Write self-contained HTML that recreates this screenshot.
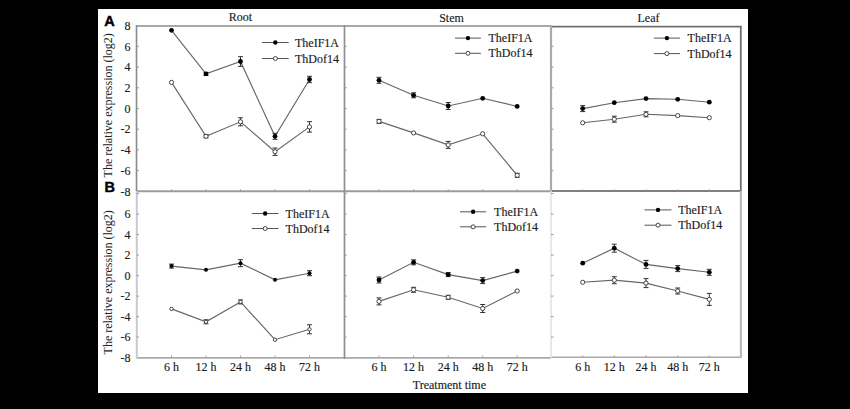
<!DOCTYPE html><html><head><meta charset="utf-8"><style>html,body{margin:0;padding:0;background:#000;overflow:hidden}svg{display:block}</style></head><body>
<svg width="850" height="409" viewBox="0 0 850 409">
<rect x="0" y="0" width="850" height="409" fill="#000"/>
<rect x="98" y="9" width="650" height="384" fill="#fff"/>
<line x1="136.5" y1="26.0" x2="551" y2="26.0" stroke="#a8a8a8" stroke-width="2"/>
<line x1="551" y1="26.6" x2="741" y2="26.6" stroke="#707070" stroke-width="1.6"/>
<line x1="136.5" y1="191.3" x2="551" y2="191.3" stroke="#9c9c9c" stroke-width="2"/>
<line x1="551" y1="191.0" x2="741" y2="191.0" stroke="#555" stroke-width="1.6"/>
<line x1="136.5" y1="357.9" x2="551" y2="357.9" stroke="#aaa" stroke-width="1.8"/>
<line x1="551" y1="357.2" x2="741.5" y2="357.2" stroke="#aaa" stroke-width="1.6"/>
<line x1="136.5" y1="25.2" x2="136.5" y2="191" stroke="#8a8a8a" stroke-width="1.6"/>
<line x1="136.8" y1="191" x2="136.8" y2="358.8" stroke="#cacaca" stroke-width="2.0"/>
<line x1="344.5" y1="25.2" x2="344.5" y2="358.8" stroke="#8f8f8f" stroke-width="1.7"/>
<line x1="551" y1="25.2" x2="551" y2="191" stroke="#aaa" stroke-width="2.2"/>
<line x1="551" y1="191" x2="551" y2="358" stroke="#e0e0e0" stroke-width="1.5"/>
<line x1="740.8" y1="25.8" x2="740.8" y2="191" stroke="#6f6f6f" stroke-width="1.8"/>
<line x1="740.9" y1="191" x2="740.9" y2="358" stroke="#bbb" stroke-width="2.2"/>
<line x1="136.5" y1="170.7" x2="139.0" y2="170.7" stroke="#999" stroke-width="1"/>
<line x1="136.5" y1="149.9" x2="139.0" y2="149.9" stroke="#999" stroke-width="1"/>
<line x1="136.5" y1="129.2" x2="139.0" y2="129.2" stroke="#999" stroke-width="1"/>
<line x1="136.5" y1="108.5" x2="139.0" y2="108.5" stroke="#999" stroke-width="1"/>
<line x1="136.5" y1="87.8" x2="139.0" y2="87.8" stroke="#999" stroke-width="1"/>
<line x1="136.5" y1="67.1" x2="139.0" y2="67.1" stroke="#999" stroke-width="1"/>
<line x1="136.5" y1="46.3" x2="139.0" y2="46.3" stroke="#999" stroke-width="1"/>
<line x1="171.5" y1="191.3" x2="171.5" y2="189.3" stroke="#999" stroke-width="1"/>
<line x1="206.0" y1="191.3" x2="206.0" y2="189.3" stroke="#999" stroke-width="1"/>
<line x1="240.5" y1="191.3" x2="240.5" y2="189.3" stroke="#999" stroke-width="1"/>
<line x1="275.0" y1="191.3" x2="275.0" y2="189.3" stroke="#999" stroke-width="1"/>
<line x1="309.5" y1="191.3" x2="309.5" y2="189.3" stroke="#999" stroke-width="1"/>
<line x1="344.3" y1="170.7" x2="346.8" y2="170.7" stroke="#999" stroke-width="1"/>
<line x1="344.3" y1="149.9" x2="346.8" y2="149.9" stroke="#999" stroke-width="1"/>
<line x1="344.3" y1="129.2" x2="346.8" y2="129.2" stroke="#999" stroke-width="1"/>
<line x1="344.3" y1="108.5" x2="346.8" y2="108.5" stroke="#999" stroke-width="1"/>
<line x1="344.3" y1="87.8" x2="346.8" y2="87.8" stroke="#999" stroke-width="1"/>
<line x1="344.3" y1="67.1" x2="346.8" y2="67.1" stroke="#999" stroke-width="1"/>
<line x1="344.3" y1="46.3" x2="346.8" y2="46.3" stroke="#999" stroke-width="1"/>
<line x1="379.0" y1="191.3" x2="379.0" y2="189.3" stroke="#999" stroke-width="1"/>
<line x1="413.6" y1="191.3" x2="413.6" y2="189.3" stroke="#999" stroke-width="1"/>
<line x1="448.2" y1="191.3" x2="448.2" y2="189.3" stroke="#999" stroke-width="1"/>
<line x1="482.7" y1="191.3" x2="482.7" y2="189.3" stroke="#999" stroke-width="1"/>
<line x1="517.2" y1="191.3" x2="517.2" y2="189.3" stroke="#999" stroke-width="1"/>
<line x1="551.0" y1="170.7" x2="553.5" y2="170.7" stroke="#999" stroke-width="1"/>
<line x1="551.0" y1="149.9" x2="553.5" y2="149.9" stroke="#999" stroke-width="1"/>
<line x1="551.0" y1="129.2" x2="553.5" y2="129.2" stroke="#999" stroke-width="1"/>
<line x1="551.0" y1="108.5" x2="553.5" y2="108.5" stroke="#999" stroke-width="1"/>
<line x1="551.0" y1="87.8" x2="553.5" y2="87.8" stroke="#999" stroke-width="1"/>
<line x1="551.0" y1="67.1" x2="553.5" y2="67.1" stroke="#999" stroke-width="1"/>
<line x1="551.0" y1="46.3" x2="553.5" y2="46.3" stroke="#999" stroke-width="1"/>
<line x1="582.7" y1="191.3" x2="582.7" y2="189.3" stroke="#999" stroke-width="1"/>
<line x1="614.3" y1="191.3" x2="614.3" y2="189.3" stroke="#999" stroke-width="1"/>
<line x1="646.0" y1="191.3" x2="646.0" y2="189.3" stroke="#999" stroke-width="1"/>
<line x1="677.7" y1="191.3" x2="677.7" y2="189.3" stroke="#999" stroke-width="1"/>
<line x1="709.3" y1="191.3" x2="709.3" y2="189.3" stroke="#999" stroke-width="1"/>
<line x1="136.5" y1="337.1" x2="139.0" y2="337.1" stroke="#999" stroke-width="1"/>
<line x1="136.5" y1="316.6" x2="139.0" y2="316.6" stroke="#999" stroke-width="1"/>
<line x1="136.5" y1="296.1" x2="139.0" y2="296.1" stroke="#999" stroke-width="1"/>
<line x1="136.5" y1="275.6" x2="139.0" y2="275.6" stroke="#999" stroke-width="1"/>
<line x1="136.5" y1="255.1" x2="139.0" y2="255.1" stroke="#999" stroke-width="1"/>
<line x1="136.5" y1="234.6" x2="139.0" y2="234.6" stroke="#999" stroke-width="1"/>
<line x1="136.5" y1="214.1" x2="139.0" y2="214.1" stroke="#999" stroke-width="1"/>
<line x1="136.5" y1="193.6" x2="139.0" y2="193.6" stroke="#999" stroke-width="1"/>
<line x1="171.5" y1="357.6" x2="171.5" y2="355.6" stroke="#999" stroke-width="1"/>
<line x1="206.0" y1="357.6" x2="206.0" y2="355.6" stroke="#999" stroke-width="1"/>
<line x1="240.5" y1="357.6" x2="240.5" y2="355.6" stroke="#999" stroke-width="1"/>
<line x1="275.0" y1="357.6" x2="275.0" y2="355.6" stroke="#999" stroke-width="1"/>
<line x1="309.5" y1="357.6" x2="309.5" y2="355.6" stroke="#999" stroke-width="1"/>
<line x1="344.3" y1="337.1" x2="346.8" y2="337.1" stroke="#999" stroke-width="1"/>
<line x1="344.3" y1="316.6" x2="346.8" y2="316.6" stroke="#999" stroke-width="1"/>
<line x1="344.3" y1="296.1" x2="346.8" y2="296.1" stroke="#999" stroke-width="1"/>
<line x1="344.3" y1="275.6" x2="346.8" y2="275.6" stroke="#999" stroke-width="1"/>
<line x1="344.3" y1="255.1" x2="346.8" y2="255.1" stroke="#999" stroke-width="1"/>
<line x1="344.3" y1="234.6" x2="346.8" y2="234.6" stroke="#999" stroke-width="1"/>
<line x1="344.3" y1="214.1" x2="346.8" y2="214.1" stroke="#999" stroke-width="1"/>
<line x1="344.3" y1="193.6" x2="346.8" y2="193.6" stroke="#999" stroke-width="1"/>
<line x1="379.0" y1="357.6" x2="379.0" y2="355.6" stroke="#999" stroke-width="1"/>
<line x1="413.6" y1="357.6" x2="413.6" y2="355.6" stroke="#999" stroke-width="1"/>
<line x1="448.2" y1="357.6" x2="448.2" y2="355.6" stroke="#999" stroke-width="1"/>
<line x1="482.7" y1="357.6" x2="482.7" y2="355.6" stroke="#999" stroke-width="1"/>
<line x1="517.2" y1="357.6" x2="517.2" y2="355.6" stroke="#999" stroke-width="1"/>
<line x1="551.0" y1="337.1" x2="553.5" y2="337.1" stroke="#999" stroke-width="1"/>
<line x1="551.0" y1="316.6" x2="553.5" y2="316.6" stroke="#999" stroke-width="1"/>
<line x1="551.0" y1="296.1" x2="553.5" y2="296.1" stroke="#999" stroke-width="1"/>
<line x1="551.0" y1="275.6" x2="553.5" y2="275.6" stroke="#999" stroke-width="1"/>
<line x1="551.0" y1="255.1" x2="553.5" y2="255.1" stroke="#999" stroke-width="1"/>
<line x1="551.0" y1="234.6" x2="553.5" y2="234.6" stroke="#999" stroke-width="1"/>
<line x1="551.0" y1="214.1" x2="553.5" y2="214.1" stroke="#999" stroke-width="1"/>
<line x1="551.0" y1="193.6" x2="553.5" y2="193.6" stroke="#999" stroke-width="1"/>
<line x1="582.7" y1="357.6" x2="582.7" y2="355.6" stroke="#999" stroke-width="1"/>
<line x1="614.3" y1="357.6" x2="614.3" y2="355.6" stroke="#999" stroke-width="1"/>
<line x1="646.0" y1="357.6" x2="646.0" y2="355.6" stroke="#999" stroke-width="1"/>
<line x1="677.7" y1="357.6" x2="677.7" y2="355.6" stroke="#999" stroke-width="1"/>
<line x1="709.3" y1="357.6" x2="709.3" y2="355.6" stroke="#999" stroke-width="1"/>
<text x="130.5" y="195.6" text-anchor="end" font-family="'Liberation Serif', serif" font-size="12" fill="#1a1a1a" stroke="#1a1a1a" stroke-width="0.15">-8</text>
<text x="130.5" y="174.9" text-anchor="end" font-family="'Liberation Serif', serif" font-size="12" fill="#1a1a1a" stroke="#1a1a1a" stroke-width="0.15">-6</text>
<text x="130.5" y="154.1" text-anchor="end" font-family="'Liberation Serif', serif" font-size="12" fill="#1a1a1a" stroke="#1a1a1a" stroke-width="0.15">-4</text>
<text x="130.5" y="133.4" text-anchor="end" font-family="'Liberation Serif', serif" font-size="12" fill="#1a1a1a" stroke="#1a1a1a" stroke-width="0.15">-2</text>
<text x="130.5" y="112.7" text-anchor="end" font-family="'Liberation Serif', serif" font-size="12" fill="#1a1a1a" stroke="#1a1a1a" stroke-width="0.15">0</text>
<text x="130.5" y="92.0" text-anchor="end" font-family="'Liberation Serif', serif" font-size="12" fill="#1a1a1a" stroke="#1a1a1a" stroke-width="0.15">2</text>
<text x="130.5" y="71.3" text-anchor="end" font-family="'Liberation Serif', serif" font-size="12" fill="#1a1a1a" stroke="#1a1a1a" stroke-width="0.15">4</text>
<text x="130.5" y="50.5" text-anchor="end" font-family="'Liberation Serif', serif" font-size="12" fill="#1a1a1a" stroke="#1a1a1a" stroke-width="0.15">6</text>
<text x="130.5" y="29.8" text-anchor="end" font-family="'Liberation Serif', serif" font-size="12" fill="#1a1a1a" stroke="#1a1a1a" stroke-width="0.15">8</text>
<text x="130.5" y="361.8" text-anchor="end" font-family="'Liberation Serif', serif" font-size="12" fill="#1a1a1a" stroke="#1a1a1a" stroke-width="0.15">-8</text>
<text x="130.5" y="341.3" text-anchor="end" font-family="'Liberation Serif', serif" font-size="12" fill="#1a1a1a" stroke="#1a1a1a" stroke-width="0.15">-6</text>
<text x="130.5" y="320.8" text-anchor="end" font-family="'Liberation Serif', serif" font-size="12" fill="#1a1a1a" stroke="#1a1a1a" stroke-width="0.15">-4</text>
<text x="130.5" y="300.3" text-anchor="end" font-family="'Liberation Serif', serif" font-size="12" fill="#1a1a1a" stroke="#1a1a1a" stroke-width="0.15">-2</text>
<text x="130.5" y="279.8" text-anchor="end" font-family="'Liberation Serif', serif" font-size="12" fill="#1a1a1a" stroke="#1a1a1a" stroke-width="0.15">0</text>
<text x="130.5" y="259.3" text-anchor="end" font-family="'Liberation Serif', serif" font-size="12" fill="#1a1a1a" stroke="#1a1a1a" stroke-width="0.15">2</text>
<text x="130.5" y="238.8" text-anchor="end" font-family="'Liberation Serif', serif" font-size="12" fill="#1a1a1a" stroke="#1a1a1a" stroke-width="0.15">4</text>
<text x="130.5" y="218.3" text-anchor="end" font-family="'Liberation Serif', serif" font-size="12" fill="#1a1a1a" stroke="#1a1a1a" stroke-width="0.15">6</text>
<text transform="translate(112,105.3) rotate(-90)" text-anchor="middle" font-family="'Liberation Serif', serif" font-size="12" fill="#222">The relative expression (log2)</text>
<text transform="translate(112,282.3) rotate(-90)" text-anchor="middle" font-family="'Liberation Serif', serif" font-size="12" fill="#222">The relative expression (log2)</text>
<text x="104.3" y="25.9" font-family="'Liberation Sans', sans-serif" font-weight="bold" font-size="14.5" fill="#000" stroke="#000" stroke-width="0.4">A</text>
<text x="104.6" y="192.4" font-family="'Liberation Sans', sans-serif" font-weight="bold" font-size="14.5" fill="#000" stroke="#000" stroke-width="0.4">B</text>
<text x="240.4" y="20.8" text-anchor="middle" font-family="'Liberation Serif', serif" font-size="12" fill="#1a1a1a" stroke="#1a1a1a" stroke-width="0.15">Root</text>
<text x="451.5" y="22" text-anchor="middle" font-family="'Liberation Serif', serif" font-size="12" fill="#1a1a1a" stroke="#1a1a1a" stroke-width="0.15">Stem</text>
<text x="648.5" y="21.7" text-anchor="middle" font-family="'Liberation Serif', serif" font-size="12" fill="#1a1a1a" stroke="#1a1a1a" stroke-width="0.15">Leaf</text>
<text x="171.5" y="371.3" text-anchor="middle" font-family="'Liberation Serif', serif" font-size="12" fill="#1a1a1a" stroke="#1a1a1a" stroke-width="0.15">6 h</text>
<text x="206.0" y="371.3" text-anchor="middle" font-family="'Liberation Serif', serif" font-size="12" fill="#1a1a1a" stroke="#1a1a1a" stroke-width="0.15">12 h</text>
<text x="240.5" y="371.3" text-anchor="middle" font-family="'Liberation Serif', serif" font-size="12" fill="#1a1a1a" stroke="#1a1a1a" stroke-width="0.15">24 h</text>
<text x="275.0" y="371.3" text-anchor="middle" font-family="'Liberation Serif', serif" font-size="12" fill="#1a1a1a" stroke="#1a1a1a" stroke-width="0.15">48 h</text>
<text x="309.5" y="371.3" text-anchor="middle" font-family="'Liberation Serif', serif" font-size="12" fill="#1a1a1a" stroke="#1a1a1a" stroke-width="0.15">72 h</text>
<text x="379.0" y="371.3" text-anchor="middle" font-family="'Liberation Serif', serif" font-size="12" fill="#1a1a1a" stroke="#1a1a1a" stroke-width="0.15">6 h</text>
<text x="413.6" y="371.3" text-anchor="middle" font-family="'Liberation Serif', serif" font-size="12" fill="#1a1a1a" stroke="#1a1a1a" stroke-width="0.15">12 h</text>
<text x="448.2" y="371.3" text-anchor="middle" font-family="'Liberation Serif', serif" font-size="12" fill="#1a1a1a" stroke="#1a1a1a" stroke-width="0.15">24 h</text>
<text x="482.7" y="371.3" text-anchor="middle" font-family="'Liberation Serif', serif" font-size="12" fill="#1a1a1a" stroke="#1a1a1a" stroke-width="0.15">48 h</text>
<text x="517.2" y="371.3" text-anchor="middle" font-family="'Liberation Serif', serif" font-size="12" fill="#1a1a1a" stroke="#1a1a1a" stroke-width="0.15">72 h</text>
<text x="582.7" y="371.3" text-anchor="middle" font-family="'Liberation Serif', serif" font-size="12" fill="#1a1a1a" stroke="#1a1a1a" stroke-width="0.15">6 h</text>
<text x="614.3" y="371.3" text-anchor="middle" font-family="'Liberation Serif', serif" font-size="12" fill="#1a1a1a" stroke="#1a1a1a" stroke-width="0.15">12 h</text>
<text x="646.0" y="371.3" text-anchor="middle" font-family="'Liberation Serif', serif" font-size="12" fill="#1a1a1a" stroke="#1a1a1a" stroke-width="0.15">24 h</text>
<text x="677.7" y="371.3" text-anchor="middle" font-family="'Liberation Serif', serif" font-size="12" fill="#1a1a1a" stroke="#1a1a1a" stroke-width="0.15">48 h</text>
<text x="709.3" y="371.3" text-anchor="middle" font-family="'Liberation Serif', serif" font-size="12" fill="#1a1a1a" stroke="#1a1a1a" stroke-width="0.15">72 h</text>
<text x="449.4" y="389.1" text-anchor="middle" font-family="'Liberation Serif', serif" font-size="12" fill="#1a1a1a" stroke="#1a1a1a" stroke-width="0.15">Treatment time</text>
<line x1="261.9" y1="42.5" x2="288.7" y2="42.5" stroke="#555" stroke-width="1"/>
<circle cx="275.29999999999995" cy="42.5" r="2.2" fill="#000"/>
<line x1="261.9" y1="58.5" x2="288.7" y2="58.5" stroke="#555" stroke-width="1"/>
<circle cx="275.29999999999995" cy="58.5" r="2" fill="#fff" stroke="#333" stroke-width="0.9"/>
<text x="295" y="46.7" font-family="'Liberation Serif', serif" font-size="12" fill="#1a1a1a" stroke="#1a1a1a" stroke-width="0.15">TheIF1A</text>
<text x="295" y="62.5" font-family="'Liberation Serif', serif" font-size="12" fill="#1a1a1a" stroke="#1a1a1a" stroke-width="0.15">ThDof14</text>
<line x1="455" y1="38.1" x2="480.9" y2="38.1" stroke="#555" stroke-width="1"/>
<circle cx="467.95" cy="38.1" r="2.2" fill="#000"/>
<line x1="455" y1="53.3" x2="480.9" y2="53.3" stroke="#555" stroke-width="1"/>
<circle cx="467.95" cy="53.3" r="2" fill="#fff" stroke="#333" stroke-width="0.9"/>
<text x="488.5" y="42.3" font-family="'Liberation Serif', serif" font-size="12" fill="#1a1a1a" stroke="#1a1a1a" stroke-width="0.15">TheIF1A</text>
<text x="488.5" y="57.3" font-family="'Liberation Serif', serif" font-size="12" fill="#1a1a1a" stroke="#1a1a1a" stroke-width="0.15">ThDof14</text>
<line x1="653.8" y1="38.1" x2="680" y2="38.1" stroke="#555" stroke-width="1"/>
<circle cx="666.9" cy="38.1" r="2.2" fill="#000"/>
<line x1="653.8" y1="53.6" x2="680" y2="53.6" stroke="#555" stroke-width="1"/>
<circle cx="666.9" cy="53.6" r="2" fill="#fff" stroke="#333" stroke-width="0.9"/>
<text x="687.6" y="42.3" font-family="'Liberation Serif', serif" font-size="12" fill="#1a1a1a" stroke="#1a1a1a" stroke-width="0.15">TheIF1A</text>
<text x="687.6" y="57.6" font-family="'Liberation Serif', serif" font-size="12" fill="#1a1a1a" stroke="#1a1a1a" stroke-width="0.15">ThDof14</text>
<line x1="251.8" y1="213.5" x2="278.5" y2="213.5" stroke="#555" stroke-width="1"/>
<circle cx="265.15" cy="213.5" r="2.2" fill="#000"/>
<line x1="251.8" y1="228.5" x2="278.5" y2="228.5" stroke="#555" stroke-width="1"/>
<circle cx="265.15" cy="228.5" r="2" fill="#fff" stroke="#333" stroke-width="0.9"/>
<text x="285.6" y="217.7" font-family="'Liberation Serif', serif" font-size="12" fill="#1a1a1a" stroke="#1a1a1a" stroke-width="0.15">TheIF1A</text>
<text x="285.6" y="232.5" font-family="'Liberation Serif', serif" font-size="12" fill="#1a1a1a" stroke="#1a1a1a" stroke-width="0.15">ThDof14</text>
<line x1="460" y1="211.8" x2="486.2" y2="211.8" stroke="#555" stroke-width="1"/>
<circle cx="473.1" cy="211.8" r="2.2" fill="#000"/>
<line x1="460" y1="226.8" x2="486.2" y2="226.8" stroke="#555" stroke-width="1"/>
<circle cx="473.1" cy="226.8" r="2" fill="#fff" stroke="#333" stroke-width="0.9"/>
<text x="494.1" y="216.0" font-family="'Liberation Serif', serif" font-size="12" fill="#1a1a1a" stroke="#1a1a1a" stroke-width="0.15">TheIF1A</text>
<text x="494.1" y="230.8" font-family="'Liberation Serif', serif" font-size="12" fill="#1a1a1a" stroke="#1a1a1a" stroke-width="0.15">ThDof14</text>
<line x1="644.5" y1="209.9" x2="671.5" y2="209.9" stroke="#555" stroke-width="1"/>
<circle cx="658.0" cy="209.9" r="2.2" fill="#000"/>
<line x1="644.5" y1="225.2" x2="671.5" y2="225.2" stroke="#555" stroke-width="1"/>
<circle cx="658.0" cy="225.2" r="2" fill="#fff" stroke="#333" stroke-width="0.9"/>
<text x="678.2" y="214.1" font-family="'Liberation Serif', serif" font-size="12" fill="#1a1a1a" stroke="#1a1a1a" stroke-width="0.15">TheIF1A</text>
<text x="678.2" y="229.2" font-family="'Liberation Serif', serif" font-size="12" fill="#1a1a1a" stroke="#1a1a1a" stroke-width="0.15">ThDof14</text>
<polyline points="171.5,30.3 206.0,73.9 240.5,61.5 275.0,136.3 309.5,79.5" fill="none" stroke="#666" stroke-width="1.15"/>
<path d="M203.5,72.4H208.5M206.0,72.4V75.4M203.5,75.4H208.5" stroke="#333" stroke-width="1" fill="none"/>
<path d="M238.0,56.7H243.0M240.5,56.7V66.3M238.0,66.3H243.0" stroke="#333" stroke-width="1" fill="none"/>
<path d="M272.5,133.3H277.5M275.0,133.3V139.3M272.5,139.3H277.5" stroke="#333" stroke-width="1" fill="none"/>
<path d="M307.0,76.3H312.0M309.5,76.3V82.7M307.0,82.7H312.0" stroke="#333" stroke-width="1" fill="none"/>
<circle cx="171.5" cy="30.3" r="2.4" fill="#000"/>
<circle cx="206.0" cy="73.9" r="2.4" fill="#000"/>
<circle cx="240.5" cy="61.5" r="2.4" fill="#000"/>
<circle cx="275.0" cy="136.3" r="2.4" fill="#000"/>
<circle cx="309.5" cy="79.5" r="2.4" fill="#000"/>
<polyline points="171.5,82.4 206.0,136.3 240.5,121.8 275.0,151.7 309.5,126.9" fill="none" stroke="#666" stroke-width="1.15"/>
<path d="M203.5,134.8H208.5M206.0,134.8V137.8M203.5,137.8H208.5" stroke="#333" stroke-width="1" fill="none"/>
<path d="M238.0,117.8H243.0M240.5,117.8V125.8M238.0,125.8H243.0" stroke="#333" stroke-width="1" fill="none"/>
<path d="M272.5,148.0H277.5M275.0,148.0V155.4M272.5,155.4H277.5" stroke="#333" stroke-width="1" fill="none"/>
<path d="M307.0,121.7H312.0M309.5,121.7V132.1M307.0,132.1H312.0" stroke="#333" stroke-width="1" fill="none"/>
<circle cx="171.5" cy="82.4" r="2.1" fill="#fff" stroke="#333" stroke-width="0.9"/>
<circle cx="206.0" cy="136.3" r="2.1" fill="#fff" stroke="#333" stroke-width="0.9"/>
<circle cx="240.5" cy="121.8" r="2.1" fill="#fff" stroke="#333" stroke-width="0.9"/>
<circle cx="275.0" cy="151.7" r="2.1" fill="#fff" stroke="#333" stroke-width="0.9"/>
<circle cx="309.5" cy="126.9" r="2.1" fill="#fff" stroke="#333" stroke-width="0.9"/>
<polyline points="379.0,80.3 413.6,95.3 448.2,106.0 482.7,98.3 517.2,106.4" fill="none" stroke="#666" stroke-width="1.15"/>
<path d="M376.5,77.3H381.5M379.0,77.3V83.3M376.5,83.3H381.5" stroke="#333" stroke-width="1" fill="none"/>
<path d="M411.1,92.8H416.1M413.6,92.8V97.8M411.1,97.8H416.1" stroke="#333" stroke-width="1" fill="none"/>
<path d="M445.7,102.5H450.7M448.2,102.5V109.5M445.7,109.5H450.7" stroke="#333" stroke-width="1" fill="none"/>
<circle cx="379.0" cy="80.3" r="2.4" fill="#000"/>
<circle cx="413.6" cy="95.3" r="2.4" fill="#000"/>
<circle cx="448.2" cy="106.0" r="2.4" fill="#000"/>
<circle cx="482.7" cy="98.3" r="2.4" fill="#000"/>
<circle cx="517.2" cy="106.4" r="2.4" fill="#000"/>
<polyline points="379.0,121.4 413.6,132.9 448.2,144.9 482.7,133.8 517.2,175.3" fill="none" stroke="#666" stroke-width="1.15"/>
<path d="M376.5,119.4H381.5M379.0,119.4V123.4M376.5,123.4H381.5" stroke="#333" stroke-width="1" fill="none"/>
<path d="M445.7,141.4H450.7M448.2,141.4V148.4M445.7,148.4H450.7" stroke="#333" stroke-width="1" fill="none"/>
<path d="M514.7,173.3H519.7M517.2,173.3V177.3M514.7,177.3H519.7" stroke="#333" stroke-width="1" fill="none"/>
<circle cx="379.0" cy="121.4" r="2.1" fill="#fff" stroke="#333" stroke-width="0.9"/>
<circle cx="413.6" cy="132.9" r="2.1" fill="#fff" stroke="#333" stroke-width="0.9"/>
<circle cx="448.2" cy="144.9" r="2.1" fill="#fff" stroke="#333" stroke-width="0.9"/>
<circle cx="482.7" cy="133.8" r="2.1" fill="#fff" stroke="#333" stroke-width="0.9"/>
<circle cx="517.2" cy="175.3" r="2.1" fill="#fff" stroke="#333" stroke-width="0.9"/>
<polyline points="582.7,108.6 614.3,102.7 646.0,98.6 677.7,99.3 709.3,102.2" fill="none" stroke="#666" stroke-width="1.15"/>
<path d="M580.2,105.6H585.2M582.7,105.6V111.6M580.2,111.6H585.2" stroke="#333" stroke-width="1" fill="none"/>
<circle cx="582.7" cy="108.6" r="2.4" fill="#000"/>
<circle cx="614.3" cy="102.7" r="2.4" fill="#000"/>
<circle cx="646.0" cy="98.6" r="2.4" fill="#000"/>
<circle cx="677.7" cy="99.3" r="2.4" fill="#000"/>
<circle cx="709.3" cy="102.2" r="2.4" fill="#000"/>
<polyline points="582.7,122.8 614.3,119.2 646.0,114.3 677.7,115.6 709.3,117.7" fill="none" stroke="#666" stroke-width="1.15"/>
<path d="M611.8,116.2H616.8M614.3,116.2V122.2M611.8,122.2H616.8" stroke="#333" stroke-width="1" fill="none"/>
<path d="M643.5,111.8H648.5M646.0,111.8V116.8M643.5,116.8H648.5" stroke="#333" stroke-width="1" fill="none"/>
<circle cx="582.7" cy="122.8" r="2.1" fill="#fff" stroke="#333" stroke-width="0.9"/>
<circle cx="614.3" cy="119.2" r="2.1" fill="#fff" stroke="#333" stroke-width="0.9"/>
<circle cx="646.0" cy="114.3" r="2.1" fill="#fff" stroke="#333" stroke-width="0.9"/>
<circle cx="677.7" cy="115.6" r="2.1" fill="#fff" stroke="#333" stroke-width="0.9"/>
<circle cx="709.3" cy="117.7" r="2.1" fill="#fff" stroke="#333" stroke-width="0.9"/>
<polyline points="171.5,266.1 206.0,269.8 240.5,263.2 275.0,279.8 309.5,273.2" fill="none" stroke="#666" stroke-width="1.15"/>
<path d="M169.0,264.1H174.0M171.5,264.1V268.1M169.0,268.1H174.0" stroke="#333" stroke-width="1" fill="none"/>
<path d="M238.0,259.7H243.0M240.5,259.7V266.7M238.0,266.7H243.0" stroke="#333" stroke-width="1" fill="none"/>
<path d="M307.0,270.7H312.0M309.5,270.7V275.7M307.0,275.7H312.0" stroke="#333" stroke-width="1" fill="none"/>
<circle cx="171.5" cy="266.1" r="2.0" fill="#000"/>
<circle cx="206.0" cy="269.8" r="2.0" fill="#000"/>
<circle cx="240.5" cy="263.2" r="2.0" fill="#000"/>
<circle cx="275.0" cy="279.8" r="2.0" fill="#000"/>
<circle cx="309.5" cy="273.2" r="2.0" fill="#000"/>
<polyline points="171.5,308.9 206.0,321.8 240.5,301.9 275.0,339.7 309.5,329.3" fill="none" stroke="#666" stroke-width="1.15"/>
<path d="M203.5,319.8H208.5M206.0,319.8V323.8M203.5,323.8H208.5" stroke="#333" stroke-width="1" fill="none"/>
<path d="M238.0,299.9H243.0M240.5,299.9V303.9M238.0,303.9H243.0" stroke="#333" stroke-width="1" fill="none"/>
<path d="M307.0,324.8H312.0M309.5,324.8V333.8M307.0,333.8H312.0" stroke="#333" stroke-width="1" fill="none"/>
<circle cx="171.5" cy="308.9" r="1.7" fill="#fff" stroke="#333" stroke-width="0.9"/>
<circle cx="206.0" cy="321.8" r="1.7" fill="#fff" stroke="#333" stroke-width="0.9"/>
<circle cx="240.5" cy="301.9" r="1.7" fill="#fff" stroke="#333" stroke-width="0.9"/>
<circle cx="275.0" cy="339.7" r="1.7" fill="#fff" stroke="#333" stroke-width="0.9"/>
<circle cx="309.5" cy="329.3" r="1.7" fill="#fff" stroke="#333" stroke-width="0.9"/>
<polyline points="379.0,280.0 413.6,262.3 448.2,274.6 482.7,280.6 517.2,271.1" fill="none" stroke="#666" stroke-width="1.15"/>
<path d="M376.5,277.0H381.5M379.0,277.0V283.0M376.5,283.0H381.5" stroke="#333" stroke-width="1" fill="none"/>
<path d="M411.1,259.8H416.1M413.6,259.8V264.8M411.1,264.8H416.1" stroke="#333" stroke-width="1" fill="none"/>
<path d="M445.7,272.6H450.7M448.2,272.6V276.6M445.7,276.6H450.7" stroke="#333" stroke-width="1" fill="none"/>
<path d="M480.2,277.6H485.2M482.7,277.6V283.6M480.2,283.6H485.2" stroke="#333" stroke-width="1" fill="none"/>
<circle cx="379.0" cy="280.0" r="2.4" fill="#000"/>
<circle cx="413.6" cy="262.3" r="2.4" fill="#000"/>
<circle cx="448.2" cy="274.6" r="2.4" fill="#000"/>
<circle cx="482.7" cy="280.6" r="2.4" fill="#000"/>
<circle cx="517.2" cy="271.1" r="2.4" fill="#000"/>
<polyline points="379.0,301.4 413.6,289.8 448.2,297.3 482.7,308.5 517.2,291.0" fill="none" stroke="#666" stroke-width="1.15"/>
<path d="M376.5,297.9H381.5M379.0,297.9V304.9M376.5,304.9H381.5" stroke="#333" stroke-width="1" fill="none"/>
<path d="M411.1,287.3H416.1M413.6,287.3V292.3M411.1,292.3H416.1" stroke="#333" stroke-width="1" fill="none"/>
<path d="M445.7,295.3H450.7M448.2,295.3V299.3M445.7,299.3H450.7" stroke="#333" stroke-width="1" fill="none"/>
<path d="M480.2,304.5H485.2M482.7,304.5V312.5M480.2,312.5H485.2" stroke="#333" stroke-width="1" fill="none"/>
<circle cx="379.0" cy="301.4" r="2.1" fill="#fff" stroke="#333" stroke-width="0.9"/>
<circle cx="413.6" cy="289.8" r="2.1" fill="#fff" stroke="#333" stroke-width="0.9"/>
<circle cx="448.2" cy="297.3" r="2.1" fill="#fff" stroke="#333" stroke-width="0.9"/>
<circle cx="482.7" cy="308.5" r="2.1" fill="#fff" stroke="#333" stroke-width="0.9"/>
<circle cx="517.2" cy="291.0" r="2.1" fill="#fff" stroke="#333" stroke-width="0.9"/>
<polyline points="582.7,263.2 614.3,248.2 646.0,264.4 677.7,268.6 709.3,272.3" fill="none" stroke="#666" stroke-width="1.15"/>
<path d="M611.8,244.2H616.8M614.3,244.2V252.2M611.8,252.2H616.8" stroke="#333" stroke-width="1" fill="none"/>
<path d="M643.5,260.4H648.5M646.0,260.4V268.4M643.5,268.4H648.5" stroke="#333" stroke-width="1" fill="none"/>
<path d="M675.2,265.6H680.2M677.7,265.6V271.6M675.2,271.6H680.2" stroke="#333" stroke-width="1" fill="none"/>
<path d="M706.8,269.3H711.8M709.3,269.3V275.3M706.8,275.3H711.8" stroke="#333" stroke-width="1" fill="none"/>
<circle cx="582.7" cy="263.2" r="2.4" fill="#000"/>
<circle cx="614.3" cy="248.2" r="2.4" fill="#000"/>
<circle cx="646.0" cy="264.4" r="2.4" fill="#000"/>
<circle cx="677.7" cy="268.6" r="2.4" fill="#000"/>
<circle cx="709.3" cy="272.3" r="2.4" fill="#000"/>
<polyline points="582.7,282.3 614.3,280.2 646.0,283.1 677.7,291.0 709.3,299.4" fill="none" stroke="#666" stroke-width="1.15"/>
<path d="M611.8,276.7H616.8M614.3,276.7V283.7M611.8,283.7H616.8" stroke="#333" stroke-width="1" fill="none"/>
<path d="M643.5,278.6H648.5M646.0,278.6V287.6M643.5,287.6H648.5" stroke="#333" stroke-width="1" fill="none"/>
<path d="M675.2,288.0H680.2M677.7,288.0V294.0M675.2,294.0H680.2" stroke="#333" stroke-width="1" fill="none"/>
<path d="M706.8,293.4H711.8M709.3,293.4V305.4M706.8,305.4H711.8" stroke="#333" stroke-width="1" fill="none"/>
<circle cx="582.7" cy="282.3" r="2.1" fill="#fff" stroke="#333" stroke-width="0.9"/>
<circle cx="614.3" cy="280.2" r="2.1" fill="#fff" stroke="#333" stroke-width="0.9"/>
<circle cx="646.0" cy="283.1" r="2.1" fill="#fff" stroke="#333" stroke-width="0.9"/>
<circle cx="677.7" cy="291.0" r="2.1" fill="#fff" stroke="#333" stroke-width="0.9"/>
<circle cx="709.3" cy="299.4" r="2.1" fill="#fff" stroke="#333" stroke-width="0.9"/>
</svg></body></html>
